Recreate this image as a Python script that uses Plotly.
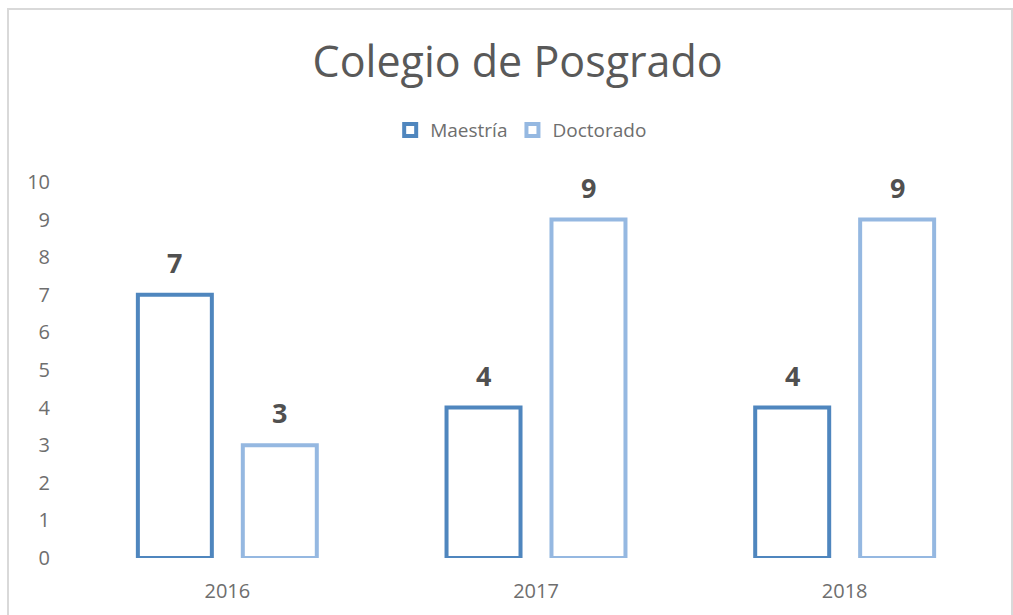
import plotly.graph_objects as go

years = ["2016", "2017", "2018"]
maestria = [7, 4, 4]
doctorado = [3, 9, 9]
y_ticks = [0, 1, 2, 3, 4, 5, 6, 7, 8, 9, 10]

c_m = "#4F86BE"
c_d = "#95B8E1"
FONT = "Open Sans, Lato, sans-serif"
TICK_C = "#6E6E6E"
label_font = dict(family=FONT, size=27, color="#505050")

BARGAP = 0.32
BARGROUPGAP = 0.295

fig = go.Figure()
fig.add_trace(go.Bar(
    name="Maestría", x=years, y=maestria,
    marker=dict(color="rgba(255,255,255,0)", line=dict(color=c_m, width=4)),
))
fig.add_trace(go.Bar(
    name="Doctorado", x=years, y=doctorado,
    marker=dict(color="rgba(255,255,255,0)", line=dict(color=c_d, width=4)),
))

# data labels above each bar (offset = center of each bar slot within its group)
slot = (1 - BARGAP) / 2
for k, series in enumerate([maestria, doctorado]):
    off = (k - 0.5) * slot
    for i, v in enumerate(series):
        fig.add_annotation(x=i + off, y=v, text=f"<b>{v}</b>", showarrow=False,
                           xref="x", yref="y", yanchor="bottom", yshift=12,
                           font=label_font)

fig.update_layout(
    width=1013, height=615,
    paper_bgcolor="white", plot_bgcolor="white",
    margin=dict(l=73, r=14, t=182, b=57),
    font=dict(family=FONT, color="#595959"),
    title=dict(text="Colegio de Posgrado", x=0.511, xanchor="center", y=0.899, yanchor="middle",
               font=dict(size=43, color="#595959")),
    legend=dict(orientation="h", x=0.484, xanchor="center", y=1.138, yanchor="middle",
                font=dict(size=19, color=TICK_C), itemwidth=30,
                traceorder="normal"),
    bargap=BARGAP, bargroupgap=BARGROUPGAP,
    showlegend=True,
)
fig.update_xaxes(showgrid=False, showline=False, ticks="", tickfont=dict(size=20, color=TICK_C),
                 ticklabelstandoff=19)
fig.update_yaxes(range=[0, 10], tickvals=y_ticks, showgrid=False, showline=False, zeroline=False,
                 ticks="", tickfont=dict(size=20, color=TICK_C), ticklabelstandoff=22)

# outer chart border
fig.add_shape(type="rect", xref="paper", yref="paper",
              x0=(8 - 73) / 926, x1=(1012 - 73) / 926,
              y0=-0.3, y1=(558 - 9) / 376,
              line=dict(color="#D9D9D9", width=2), fillcolor="rgba(0,0,0,0)", layer="below")

fig.write_html("out.html", config={"displayModeBar": False},
               post_script="document.body.style.margin='0';")
